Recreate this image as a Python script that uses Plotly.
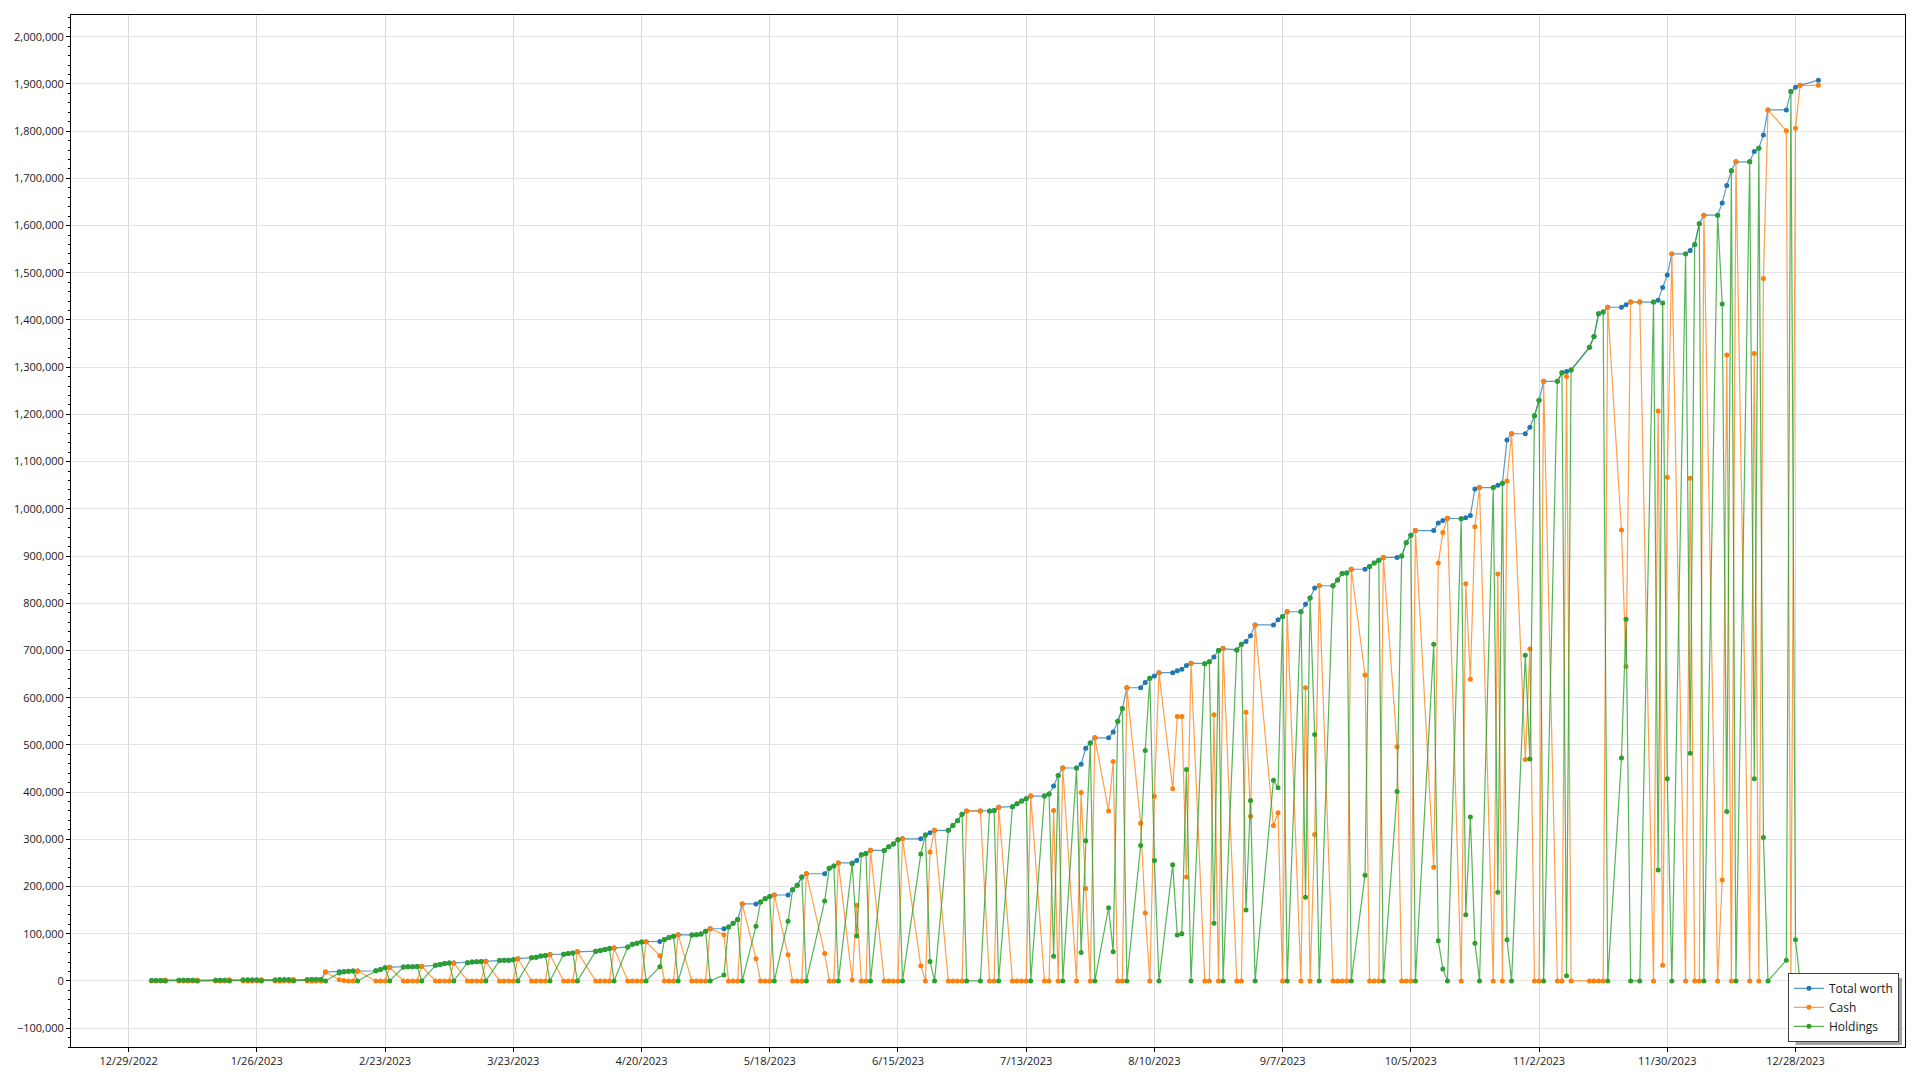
import plotly.graph_objects as go
import pandas as pd

# ---------------- DATA ----------------
# Days with data (2023 trading calendar as shown; Oct 9 and Nov 10 have no point)
days_by_month = [
    ("2023-01", [3, 4, 5, 6, 9, 10, 11, 12, 13, 17, 18, 19, 20, 23, 24, 25, 26, 27, 30, 31]),
    ("2023-02", [1, 2, 3, 6, 7, 8, 9, 10, 13, 14, 15, 16, 17, 21, 22, 23, 24, 27, 28]),
    ("2023-03", [1, 2, 3, 6, 7, 8, 9, 10, 13, 14, 15, 16, 17, 20, 21, 22, 23, 24, 27, 28, 29, 30, 31]),
    ("2023-04", [3, 4, 5, 6, 10, 11, 12, 13, 14, 17, 18, 19, 20, 21, 24, 25, 26, 27, 28]),
    ("2023-05", [1, 2, 3, 4, 5, 8, 9, 10, 11, 12, 15, 16, 17, 18, 19, 22, 23, 24, 25, 26, 30, 31]),
    ("2023-06", [1, 2, 5, 6, 7, 8, 9, 12, 13, 14, 15, 16, 20, 21, 22, 23, 26, 27, 28, 29, 30]),
    ("2023-07", [3, 5, 6, 7, 10, 11, 12, 13, 14, 17, 18, 19, 20, 21, 24, 25, 26, 27, 28, 31]),
    ("2023-08", [1, 2, 3, 4, 7, 8, 9, 10, 11, 14, 15, 16, 17, 18, 21, 22, 23, 24, 25, 28, 29, 30, 31]),
    ("2023-09", [1, 5, 6, 7, 8, 11, 12, 13, 14, 15, 18, 19, 20, 21, 22, 25, 26, 27, 28, 29]),
    ("2023-10", [2, 3, 4, 5, 6, 10, 11, 12, 13, 16, 17, 18, 19, 20, 23, 24, 25, 26, 27, 30, 31]),
    ("2023-11", [1, 2, 3, 6, 7, 8, 9, 13, 14, 15, 16, 17, 20, 21, 22, 24, 27, 28, 29, 30]),
    ("2023-12", [1, 4, 5, 6, 7, 8, 11, 12, 13, 14, 15, 18, 19, 20, 21, 22, 26, 27, 28, 29]),
    ("2024-01", [2]),
]

# values in thousands
total_worth_k = [
    # Jan
    1.0, 1.1, 1.1, 1.2, 1.3, 1.3, 1.4, 1.5, 1.5, 1.6, 1.6, 1.5, 1.7, 1.8, 1.9, 1.9, 2.0, 2.1, 2.1, 2.2,
    # Feb
    2.4, 2.6, 2.6, 2.7, 2.8, 3.0, 3.1, 19.0, 19.5, 20.0, 20.5, 21.0, 21.0, 21.5, 24.0, 28.0, 29.0, 29.5, 30.0,
    # Mar
    30.0, 30.5, 31.0, 33.0, 35.0, 37.0, 38.0, 38.0, 38.5, 40.0, 40.5, 41.0, 41.5, 43.0, 43.5, 44.0, 45.0, 47.0,
    49.0, 50.0, 53.0, 54.0, 56.0,
    # Apr
    56.5, 58.0, 59.0, 61.5, 63.0, 64.5, 66.5, 68.5, 69.5, 72.0, 77.5, 80.0, 82.5, 83.0, 83.5, 87.5, 92.0, 94.5, 98.0,
    # May
    97.0, 98.0, 99.5, 105.0, 110.5, 110.5, 114.0, 122.0, 130.0, 163.0, 163.0, 167.0, 174.0, 179.0, 182.0,
    182.0, 193.0, 202.5, 220.0, 227.0, 227.0, 238.5,
    # Jun
    243.5, 250.0, 250.0, 255.0, 267.0, 270.0, 277.0, 276.0, 284.0, 290.0, 299.0, 301.0, 301.0, 309.0, 314.0, 319.0,
    319.0, 329.0, 339.5, 353.0, 360.0,
    # Jul
    360.0, 360.0, 361.0, 368.0, 369.0, 375.5, 381.0, 386.0, 391.5, 391.5, 396.0, 413.0, 435.0, 451.0,
    451.0, 459.0, 493.0, 504.0, 515.0, 515.0,
    # Aug
    527.0, 550.0, 577.0, 621.0, 621.0, 632.0, 641.0, 646.0, 653.0, 653.0, 657.0, 660.0, 668.0, 673.0,
    672.0, 676.0, 686.0, 700.0, 704.0, 701.0, 713.0, 719.0, 731.0,
    # Sep
    754.0, 754.0, 765.0, 772.0, 782.0, 782.0, 798.0, 811.0, 832.0, 837.0, 837.0, 849.0, 863.0, 864.0, 872.0,
    872.0, 878.0, 885.0, 891.0, 897.0,
    # Oct
    897.0, 900.0, 928.0, 944.0, 954.0, 954.0, 970.0, 975.0, 980.0, 979.0, 981.0, 986.0, 1042.0, 1045.0,
    1045.0, 1050.0, 1054.0, 1146.0, 1159.0, 1159.0, 1173.0,
    # Nov
    1197.0, 1230.0, 1270.0, 1270.0, 1288.0, 1291.0, 1294.0, 1342.0, 1365.0, 1413.0, 1417.0, 1427.0,
    1427.0, 1432.0, 1438.0, 1438.0, 1438.0, 1442.0, 1469.0, 1495.0,
    # Dec
    1540.0, 1540.0, 1547.0, 1560.0, 1604.0, 1622.0, 1622.0, 1648.0, 1685.0, 1716.0, 1735.0,
    1735.0, 1757.0, 1764.0, 1792.0, 1845.0, 1845.0, 1884.0, 1893.0, 1897.0,
    # Jan 2024
    1908.0,
]

cash_k = [
    # Jan
    0, 0, 0, 1.2, 0, 0, 0, 0, 1.5, 0, 0, 0, 1.7, 0, 0, 0, 0, 2.1, 0, 0,
    # Feb
    0, 0, 2.6, 0, 0, 0, 0, 19.0, 2.5, 1.0, 0, 0, 21.0, 0, 0, 0, 29.0, 0, 0,
    # Mar
    0, 0, 31.0, 0, 0, 0, 0, 38.0, 0, 0, 0, 0, 41.5, 0, 0, 0, 0, 47.0, 0, 0, 0, 0, 56.0,
    # Apr
    0, 0, 0, 61.5, 0, 0, 0, 0, 69.5, 0, 0, 0, 0, 83.0, 53.5, 0, 0, 0, 98.0,
    # May
    0, 0, 0, 0, 110.5, 98.0, 0, 0, 0, 163.0, 47.0, 0, 0, 0, 182.0, 55.5, 0, 0, 0, 227.0, 58.0, 0,
    # Jun
    0, 250.0, 2.0, 160.0, 0, 0, 277.0, 0, 0, 0, 0, 301.0, 32.0, 0, 273.0, 319.0, 0, 0, 0, 0, 360.0,
    # Jul
    360.0, 0, 0, 368.0, 0, 0, 0, 0, 391.5, 0, 0, 361.0, 0, 451.0, 0, 399.0, 196.0, 0, 515.0, 360.0,
    # Aug
    465.0, 0, 0, 621.0, 334.0, 144.0, 0, 391.0, 653.0, 407.0, 560.0, 560.0, 220.0, 673.0,
    0, 0, 564.0, 0, 704.0, 0, 0, 569.0, 349.0,
    # Sep
    754.0, 329.0, 356.0, 0, 782.0, 0, 621.0, 0, 310.0, 837.0, 0, 0, 0, 0, 872.0, 648.0, 0, 0, 0, 897.0,
    # Oct
    496.0, 0, 0, 0, 954.0, 241.0, 885.0, 950.0, 980.0, 0, 841.0, 639.0, 962.0, 1045.0,
    0, 862.0, 0, 1059.0, 1159.0, 469.0, 703.0,
    # Nov
    0, 0, 1270.0, 0, 0, 1280.0, 0, 0, 0, 0, 0, 1427.0, 955.0, 666.0, 1438.0, 1438.0, 0, 1207.0, 33.0, 1067.0,
    # Dec
    1540.0, 0, 1065.0, 0, 0, 1622.0, 0, 214.0, 1326.0, 0, 1735.0, 0, 1329.0, 0, 1488.0, 1845.0,
    1801.0, 0, 1806.0, 1897.0,
    # Jan 2024
    1897.0,
]

holdings_k = [
    # Jan
    1.0, 1.1, 1.1, 0, 1.3, 1.3, 1.4, 1.5, 0, 1.6, 1.6, 1.5, 0, 1.8, 1.9, 1.9, 2.0, 0, 2.1, 2.2,
    # Feb
    2.4, 2.6, 0, 2.7, 2.8, 3.0, 3.1, 0, 17.0, 19.0, 20.5, 21.0, 0, 21.5, 24.0, 28.0, 0, 29.5, 30.0,
    # Mar
    30.0, 30.5, 0, 33.0, 35.0, 37.0, 38.0, 0, 38.5, 40.0, 40.5, 41.0, 0, 43.0, 43.5, 44.0, 45.0, 0,
    49.0, 50.0, 53.0, 54.0, 0,
    # Apr
    56.5, 58.0, 59.0, 0, 63.0, 64.5, 66.5, 68.5, 0, 72.0, 77.5, 80.0, 82.5, 0, 30.0, 87.5, 92.0, 94.5, 0,
    # May
    97.0, 98.0, 99.5, 105.0, 0, 12.5, 114.0, 122.0, 130.0, 0, 116.0, 167.0, 174.0, 179.0, 0,
    126.5, 193.0, 202.5, 220.0, 0, 169.0, 238.5,
    # Jun
    243.5, 0, 248.0, 95.0, 267.0, 270.0, 0, 276.0, 284.0, 290.0, 299.0, 0, 269.0, 309.0, 41.0, 0,
    319.0, 329.0, 339.5, 353.0, 0,
    # Jul
    0, 360.0, 361.0, 0, 369.0, 375.5, 381.0, 386.0, 0, 391.5, 396.0, 52.0, 435.0, 0, 451.0, 60.0, 297.0, 504.0, 0, 155.0,
    # Aug
    62.0, 550.0, 577.0, 0, 287.0, 488.0, 641.0, 255.0, 0, 246.0, 97.0, 100.0, 448.0, 0,
    672.0, 676.0, 122.0, 700.0, 0, 701.0, 713.0, 150.0, 382.0,
    # Sep
    0, 425.0, 409.0, 772.0, 0, 782.0, 177.0, 811.0, 522.0, 0, 837.0, 849.0, 863.0, 864.0, 0,
    224.0, 878.0, 885.0, 891.0, 0,
    # Oct
    401.0, 900.0, 928.0, 944.0, 0, 713.0, 85.0, 25.0, 0, 979.0, 140.0, 347.0, 80.0, 0,
    1045.0, 188.0, 1054.0, 87.0, 0, 690.0, 470.0,
    # Nov
    1197.0, 1230.0, 0, 1270.0, 1288.0, 11.0, 1294.0, 1342.0, 1365.0, 1413.0, 1417.0, 0,
    472.0, 766.0, 0, 0, 1438.0, 235.0, 1436.0, 428.0,
    # Dec
    0, 1540.0, 482.0, 1560.0, 1604.0, 0, 1622.0, 1434.0, 359.0, 1716.0, 0, 1735.0, 428.0, 1764.0, 304.0, 0,
    44.0, 1884.0, 87.0, 0,
    # Jan 2024
    11.0,
]

series_names = ["Total worth", "Cash", "Holdings"]
series_colors = ["#1f77b4", "#ff7f0e", "#2ca02c"]
line_colors = ["rgba(31,119,180,0.75)", "rgba(255,127,14,0.75)", "rgba(44,160,44,0.8)"]

x_tick_dates = ["2022-12-29", "2023-01-26", "2023-02-23", "2023-03-23", "2023-04-20", "2023-05-18",
                "2023-06-15", "2023-07-13", "2023-08-10", "2023-09-07", "2023-10-05", "2023-11-02",
                "2023-11-30", "2023-12-28"]

# ---------------- BUILD ----------------
dates = []
for ym, ds in days_by_month:
    for d in ds:
        dates.append(pd.Timestamp(f"{ym}-{d:02d}"))

assert len(dates) == len(total_worth_k) == len(cash_k) == len(holdings_k), (
    len(dates), len(total_worth_k), len(cash_k), len(holdings_k))

values = [[v * 1000 for v in total_worth_k], [v * 1000 for v in cash_k], [v * 1000 for v in holdings_k]]

fig = go.Figure()
for name, col, lcol, vals in zip(series_names, series_colors, line_colors, values):
    fig.add_trace(go.Scatter(
        x=dates, y=vals, name=name, mode="lines+markers",
        line=dict(color=lcol, width=1.2),
        marker=dict(color=col, size=5, line=dict(width=0)),
    ))

tick_ts = [pd.Timestamp(t) for t in x_tick_dates]
tick_text = [f"{t.month}/{t.day}/{t.year}" for t in tick_ts]

font_family = "Open Sans, Noto Sans, DejaVu Sans, sans-serif"

# page body has an 8px default margin; compensate so the plot lands where the reference has it
BODY = 8
FIG_W, FIG_H = 1920 - BODY, 1080 - BODY
M_L, M_R, M_T, M_B = 71 - BODY, 15, 15 - BODY, 33

fig.update_layout(
    width=FIG_W, height=FIG_H,
    margin=dict(l=M_L, r=M_R, t=M_T, b=M_B),
    paper_bgcolor="white", plot_bgcolor="white",
    font=dict(family=font_family, size=11, color="#1a1a1a"),
    showlegend=True,
    legend=dict(
        x=0.9967, y=0.005, xanchor="right", yanchor="bottom",
        bgcolor="white", bordercolor="#404040", borderwidth=1,
        font=dict(family=font_family, size=12, color="#1a1a1a"),
        itemwidth=30, tracegroupgap=0,
    ),
    xaxis=dict(
        type="date",
        range=["2022-12-16 10:00", "2024-01-20 22:00"],
        tickvals=tick_ts, ticktext=tick_text,
        showgrid=True, gridcolor="#d9d9d9", gridwidth=1,
        showline=True, linecolor="black", linewidth=1, mirror=True,
        ticks="outside", ticklen=4, tickcolor="black",
        zeroline=False,
    ),
    yaxis=dict(
        range=[-140000, 2046000],
        tickmode="linear", tick0=0, dtick=100000,
        tickformat=",d",
        showgrid=True, gridcolor="#e3e3e3", gridwidth=1,
        showline=True, linecolor="black", linewidth=1, mirror=True,
        ticks="outside", ticklen=4, tickcolor="black",
        zeroline=False,
        minor=dict(dtick=20000, ticks="outside", ticklen=2, tickcolor="black", showgrid=False),
    ),
)

# legend drop shadow (page pixel coords -> paper coords)
pw = FIG_W - M_L - M_R
ph = FIG_H - M_T - M_B
def px_to_paper(px, py):
    return (px - BODY - M_L) / pw, (FIG_H - M_B - (py - BODY)) / ph

sx0, sy0 = px_to_paper(1796, 1045)
sx1, sy1 = px_to_paper(1902, 978)
fig.add_shape(type="rect", xref="paper", yref="paper", x0=sx0, y0=sy0, x1=sx1, y1=sy1,
              fillcolor="rgba(90,90,90,0.55)", line=dict(width=0), layer="above")

fig.write_html("out.html")
